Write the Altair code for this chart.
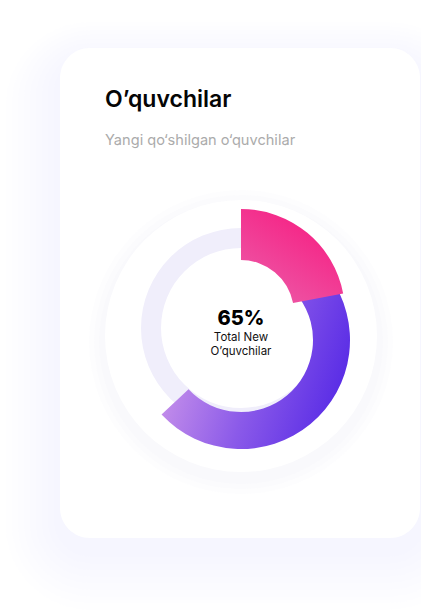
import math
import altair as alt
import pandas as pd

# ---- data ----
title_text = "O’quvchilar"
subtitle_text = "Yangi qo‘shilgan o‘quvchilar"
center_value = "65%"
center_line1 = "Total New"
center_line2 = "O’quvchilar"

seg_names = ["Yangi", "Jami"]
seg_start = [0, 15]     # percent of the circle
seg_end = [22, 63]
track_start = [0]
track_end = [100]

W, H = 421, 610
TAU = 2 * math.pi

theta_scale = alt.Scale(domain=[0, 100], range=[0, TAU])

one = pd.DataFrame({"k": [0]})

# ---- card shadow + card ----
shadow_layers = []
for i in range(9, 0, -1):
    d = i * 6
    shadow_layers.append(
        alt.Chart(one).mark_rect(cornerRadius=30 + d, fill="#dfe6f4", opacity=0.03).encode(
            x=alt.value(60 - d), x2=alt.value(420 + d),
            y=alt.value(48 - d * 0.7 + 12), y2=alt.value(538 + d * 1.1 + 12),
        )
    )
card = alt.Chart(one).mark_rect(cornerRadius=30, fill="white").encode(
    x=alt.value(60), x2=alt.value(420), y=alt.value(48), y2=alt.value(538)
)

# ---- halo circle behind the donut ----
halo_layers = []
for r in [152, 147, 142]:
    halo_layers.append(
        alt.Chart(one).mark_arc(outerRadius=r, innerRadius=0, fill="#e4e8f5", opacity=0.07).encode(
            theta=alt.value(TAU), x=alt.value(241), y=alt.value(342)
        )
    )
halo = alt.Chart(one).mark_arc(outerRadius=136, innerRadius=0, fill="white").encode(
    theta=alt.value(TAU), x=alt.value(241), y=alt.value(336)
)

# ---- donut ----
track_df = pd.DataFrame({"start": track_start, "end": track_end})
seg_df = pd.DataFrame({"name": seg_names, "start": seg_start, "end": seg_end})

track = alt.Chart(track_df).mark_arc(outerRadius=100, innerRadius=80, fill="#f0eefb").encode(
    theta=alt.Theta("start:Q", stack=None, scale=theta_scale),
    theta2="end:Q",
    x=alt.value(241), y=alt.value(328),
)

purple_grad = alt.Gradient(
    gradient="linear",
    stops=[alt.GradientStop(color="#c892ea", offset=0),
           alt.GradientStop(color="#8b5ae9", offset=0.45),
           alt.GradientStop(color="#4e22e5", offset=1)],
    x1=0, y1=0.6, x2=1, y2=0.9,
)
pink_grad = alt.Gradient(
    gradient="linear",
    stops=[alt.GradientStop(color="#f8167d", offset=0),
           alt.GradientStop(color="#ec5ba8", offset=1)],
    x1=0.9, y1=0, x2=0.2, y2=1,
)

purple = alt.Chart(seg_df).transform_filter(alt.datum.name == "Jami").mark_arc(
    outerRadius=109, innerRadius=72, fill=purple_grad
).encode(
    theta=alt.Theta("start:Q", stack=None, scale=theta_scale),
    theta2="end:Q",
    x=alt.value(241), y=alt.value(340),
)
pink = alt.Chart(seg_df).transform_filter(alt.datum.name == "Yangi").mark_arc(
    outerRadius=104, innerRadius=53, fill=pink_grad
).encode(
    theta=alt.Theta("start:Q", stack=None, scale=theta_scale),
    theta2="end:Q",
    x=alt.value(241), y=alt.value(313),
)

# ---- texts ----
FONT = "Inter"
title = alt.Chart(one).mark_text(
    text=title_text, font=FONT, fontSize=23, fontWeight=600, color="#050505",
    align="left", baseline="alphabetic"
).encode(x=alt.value(105), y=alt.value(107))
subtitle = alt.Chart(one).mark_text(
    text=subtitle_text, font=FONT, fontSize=14.6, fontWeight=400, color="#ababab",
    align="left", baseline="alphabetic"
).encode(x=alt.value(105), y=alt.value(145))
c1 = alt.Chart(one).mark_text(
    text=center_value, font=FONT, fontSize=20, fontWeight=800, color="#000000",
    align="center", baseline="alphabetic"
).encode(x=alt.value(241), y=alt.value(325))
c2 = alt.Chart(one).mark_text(
    text=center_line1, font=FONT, fontSize=11.5, fontWeight=400, color="#111111",
    align="center", baseline="alphabetic"
).encode(x=alt.value(241), y=alt.value(341))
c3 = alt.Chart(one).mark_text(
    text=center_line2, font=FONT, fontSize=11.5, fontWeight=400, color="#111111",
    align="center", baseline="alphabetic"
).encode(x=alt.value(241), y=alt.value(355))

chart = alt.layer(
    *shadow_layers, card, *halo_layers, halo, track, purple, pink, title, subtitle, c1, c2, c3
).properties(
    width=W, height=H, padding=0, background="white",
    autosize=alt.AutoSizeParams(type="none"),
).configure_view(stroke=None)

chart.save("out.html", embed_options={"renderer": "svg", "actions": False})
